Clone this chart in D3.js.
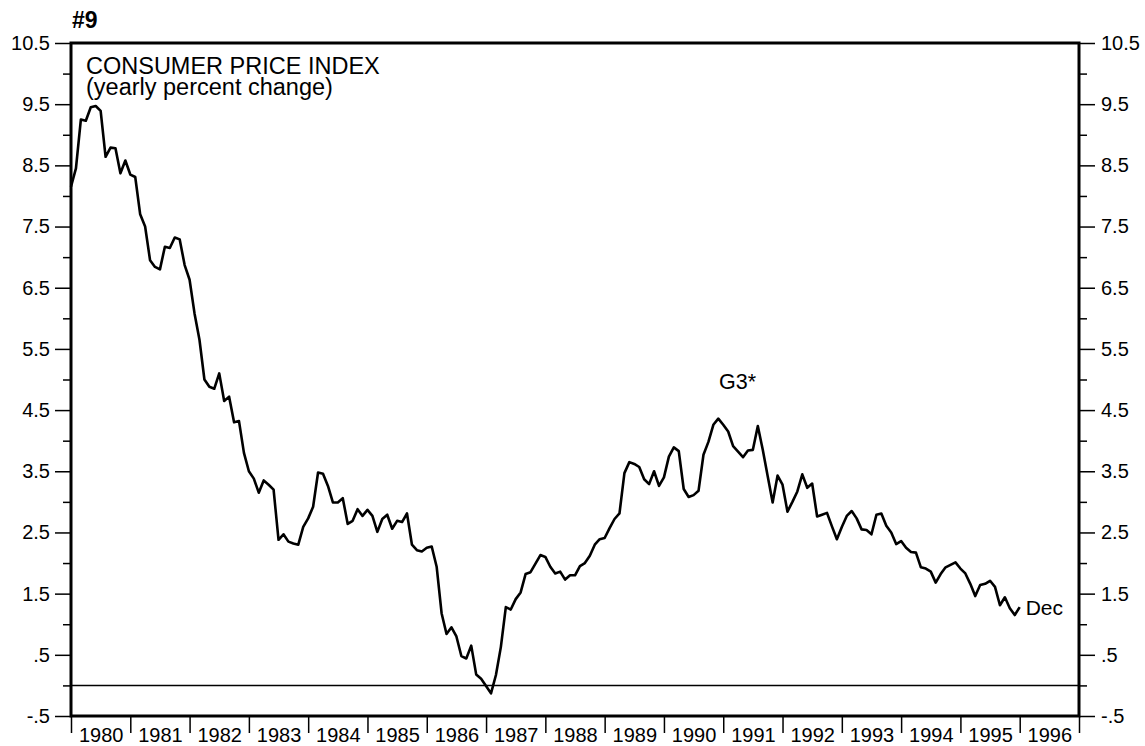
<!DOCTYPE html>
<html lang="en">
  <head>
    <meta charset="utf-8" />
    <title>Consumer Price Index - G3</title>
    <script src="https://d3js.org/d3.v7.min.js"></script>
    <style>
      body { margin: 0; background: #fff; }
      svg { display: block; font-family: "Liberation Sans", Arial, Helvetica, sans-serif; }
      .axis text { font-size: 20px; fill: #000; }
      .axis line { stroke: #000; stroke-width: 1.5px; }
    </style>
  </head>
  <body>
    <div id="chart"></div>
    <script>
      // monthly yearly % change, Dec 1979 then Jan..Dec for each year
      var dec1979 = [8.15];
      var cpi1980 = [8.45, 9.25, 9.23, 9.45, 9.47, 9.39, 8.64, 8.79, 8.78, 8.37, 8.58, 8.35];
      var cpi1981 = [8.31, 7.70, 7.50, 6.95, 6.84, 6.80, 7.17, 7.15, 7.32, 7.29, 6.87, 6.63];
      var cpi1982 = [6.08, 5.65, 5.00, 4.88, 4.85, 5.10, 4.65, 4.72, 4.30, 4.32, 3.80, 3.50];
      var cpi1983 = [3.38, 3.15, 3.35, 3.28, 3.20, 2.38, 2.47, 2.35, 2.32, 2.30, 2.59, 2.73];
      var cpi1984 = [2.92, 3.48, 3.46, 3.26, 2.99, 2.99, 3.06, 2.64, 2.69, 2.88, 2.77, 2.87];
      var cpi1985 = [2.77, 2.51, 2.72, 2.79, 2.56, 2.69, 2.67, 2.81, 2.30, 2.21, 2.19, 2.25];
      var cpi1986 = [2.27, 1.94, 1.18, 0.84, 0.95, 0.80, 0.48, 0.44, 0.65, 0.18, 0.11, -0.01];
      var cpi1987 = [-0.13, 0.17, 0.63, 1.28, 1.24, 1.41, 1.52, 1.82, 1.85, 1.99, 2.13, 2.10];
      var cpi1988 = [1.94, 1.83, 1.86, 1.73, 1.80, 1.80, 1.95, 2.00, 2.12, 2.30, 2.39, 2.41];
      var cpi1989 = [2.57, 2.72, 2.81, 3.47, 3.65, 3.62, 3.57, 3.37, 3.29, 3.50, 3.26, 3.40];
      var cpi1990 = [3.74, 3.89, 3.83, 3.21, 3.08, 3.11, 3.18, 3.77, 3.98, 4.26, 4.36, 4.26];
      var cpi1991 = [4.15, 3.91, 3.82, 3.73, 3.84, 3.85, 4.24, 3.85, 3.42, 2.99, 3.43, 3.28];
      var cpi1992 = [2.84, 3.00, 3.17, 3.45, 3.23, 3.30, 2.76, 2.79, 2.82, 2.60, 2.39, 2.59];
      var cpi1993 = [2.77, 2.85, 2.73, 2.55, 2.54, 2.47, 2.79, 2.81, 2.61, 2.50, 2.31, 2.36];
      var cpi1994 = [2.25, 2.18, 2.17, 1.93, 1.91, 1.86, 1.68, 1.82, 1.93, 1.97, 2.01, 1.91];
      var cpi1995 = [1.83, 1.66, 1.46, 1.64, 1.66, 1.71, 1.61, 1.31, 1.44, 1.26, 1.15, 1.28];

      var yearLabels = d3.range(1980, 1997);
      var yearTicks = d3.range(1980, 1998);
      var majorTicks = [-0.5, 0.5, 1.5, 2.5, 3.5, 4.5, 5.5, 6.5, 7.5, 8.5, 9.5, 10.5];
      var minorTicks = d3.range(0, 11);

      var values = [].concat(dec1979, cpi1980, cpi1981, cpi1982, cpi1983, cpi1984,
        cpi1985, cpi1986, cpi1987, cpi1988, cpi1989, cpi1990, cpi1991, cpi1992,
        cpi1993, cpi1994, cpi1995);
      // point i sits at the end of its month, Dec 1979 at 1980.0
      var series = values.map(function (v, i) {
        return { t: 1980 + i / 12, v: v };
      });

      var width = 1145;
      var height = 746;
      var plotL = 71, plotR = 1079, plotT = 43, plotB = 716;

      var x = d3.scaleLinear().domain([1980, 1997]).range([plotL, plotR]);
      var y = d3.scaleLinear().domain([-0.5, 10.5]).range([plotB, plotT]);

      // 10.5, 9.5 ... .5, -.5
      var fmt = function (d) {
        return (d < 0 ? "-" : "") + Math.abs(d).toFixed(1).replace(/^0\./, ".");
      };
      var noDomain = function (g) { g.select(".domain").remove(); };

      var svg = d3
        .select("#chart")
        .append("svg")
        .attr("width", width)
        .attr("height", height);

      // zero line
      svg
        .append("line")
        .attr("x1", plotL)
        .attr("x2", plotR)
        .attr("y1", y(0))
        .attr("y2", y(0))
        .attr("stroke", "#000")
        .attr("stroke-width", 1.5);

      // left axis, major + minor
      svg
        .append("g")
        .attr("class", "axis")
        .attr("transform", "translate(" + plotL + ",0)")
        .call(d3.axisLeft(y).tickValues(majorTicks).tickSize(16).tickPadding(5).tickFormat(fmt))
        .call(noDomain);
      svg
        .append("g")
        .attr("class", "axis")
        .attr("transform", "translate(" + plotL + ",0)")
        .call(d3.axisLeft(y).tickValues(minorTicks).tickSize(8).tickFormat(""))
        .call(noDomain);

      // right axis
      svg
        .append("g")
        .attr("class", "axis")
        .attr("transform", "translate(" + plotR + ",0)")
        .call(d3.axisRight(y).tickValues(majorTicks).tickSize(16).tickPadding(6).tickFormat(fmt))
        .call(noDomain);
      svg
        .append("g")
        .attr("class", "axis")
        .attr("transform", "translate(" + plotR + ",0)")
        .call(d3.axisRight(y).tickValues(minorTicks).tickSize(8).tickFormat(""))
        .call(noDomain);

      // bottom: year boundary ticks, labels centred in each year
      svg
        .append("g")
        .attr("class", "axis")
        .attr("transform", "translate(0," + plotB + ")")
        .call(d3.axisBottom(x).tickValues(yearTicks).tickSize(17).tickFormat(""))
        .call(noDomain);
      svg
        .append("g")
        .attr("class", "axis")
        .attr("transform", "translate(0," + plotB + ")")
        .call(
          d3.axisBottom(x)
            .tickValues(yearLabels.map(function (d) { return d + 0.5; }))
            .tickSize(0)
            .tickPadding(12)
            .tickFormat(function (d) { return String(Math.floor(d)); })
        )
        .call(noDomain);

      // frame
      svg
        .append("rect")
        .attr("x", plotL)
        .attr("y", plotT)
        .attr("width", plotR - plotL)
        .attr("height", plotB - plotT)
        .attr("fill", "none")
        .attr("stroke", "#000")
        .attr("stroke-width", 3);

      var line = d3
        .line()
        .x(function (d) { return x(d.t); })
        .y(function (d) { return y(d.v); });

      svg
        .append("path")
        .datum(series)
        .attr("d", line)
        .attr("fill", "none")
        .attr("stroke", "#000")
        .attr("stroke-width", 2.6)
        .attr("stroke-linejoin", "round");

      // texts
      svg.append("text")
        .attr("x", 72).attr("y", 28)
        .style("font-size", "23px").style("font-weight", "bold")
        .text("#9");

      svg.append("text")
        .attr("x", 86).attr("y", 74)
        .style("font-size", "23.5px")
        .text("CONSUMER PRICE INDEX");
      svg.append("text")
        .attr("x", 86).attr("y", 95)
        .style("font-size", "23.5px")
        .text("(yearly percent change)");

      svg.append("text")
        .attr("x", x(1990.93)).attr("y", y(4.84))
        .style("font-size", "21.5px")
        .text("G3*");

      var last = series[series.length - 1];
      svg.append("text")
        .attr("x", x(last.t) + 6).attr("y", y(last.v) + 8)
        .style("font-size", "21px")
        .text("Dec");
    </script>
  </body>
</html>
